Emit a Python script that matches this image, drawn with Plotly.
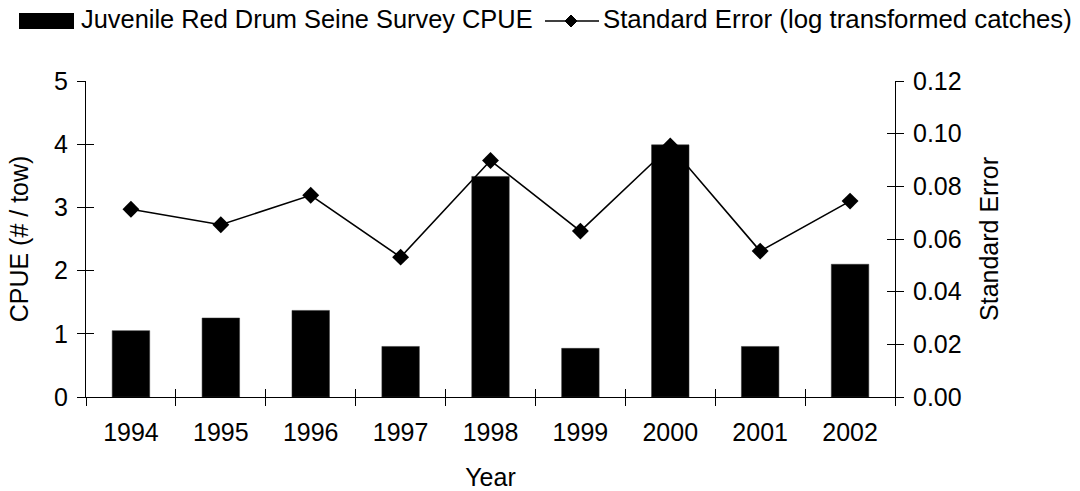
import plotly.graph_objects as go

# Juvenile red drum seine survey, 1994-2002
years = ["1994", "1995", "1996", "1997", "1998", "1999", "2000", "2001", "2002"]
cpue = [1.05, 1.25, 1.37, 0.80, 3.49, 0.77, 3.99, 0.80, 2.10]
std_err = [0.0713, 0.0654, 0.0766, 0.0531, 0.0898, 0.0630, 0.0953, 0.0554, 0.0744]

cpue_ticks = [0, 1, 2, 3, 4, 5]
se_ticks = [0.00, 0.02, 0.04, 0.06, 0.08, 0.10, 0.12]

bar_name = "Juvenile Red Drum Seine Survey CPUE"
line_name = "Standard Error (log transformed catches)"

FONT = "Liberation Sans, Arial, sans-serif"
FS = 25

fig = go.Figure()

fig.add_trace(go.Bar(
    x=years, y=cpue, name=bar_name,
    marker=dict(color="black", line=dict(color="#333333", width=0.5)),
    xaxis="x", yaxis="y", showlegend=False,
))
fig.add_trace(go.Scatter(
    x=years, y=std_err, name=line_name, mode="lines+markers",
    line=dict(color="black", width=1.6),
    marker=dict(symbol="diamond", size=13, color="black"),
    xaxis="x", yaxis="y2", showlegend=False,
))
# transparent copies that give the inward half of each crossing tick its axis
fig.add_trace(go.Scatter(x=years, y=cpue, mode="markers", marker=dict(opacity=0),
                         xaxis="x2", yaxis="y3", showlegend=False, hoverinfo="skip"))
fig.add_trace(go.Scatter(x=years, y=std_err, mode="markers", marker=dict(opacity=0),
                         xaxis="x2", yaxis="y4", showlegend=False, hoverinfo="skip"))

tickfont = dict(family=FONT, size=FS, color="black")
titlefont = dict(family=FONT, size=FS, color="black")
common_x = dict(type="category", categoryorder="array", categoryarray=years,
                range=[-0.5, len(years) - 0.5], tickson="boundaries",
                showgrid=False, zeroline=False, ticklen=8, tickwidth=1,
                tickcolor="black")

fig.update_layout(
    width=1080, height=491,
    margin=dict(l=86, r=185, t=81, b=94, autoexpand=False),
    paper_bgcolor="white", plot_bgcolor="white",
    bargap=0.583,
    font=dict(family=FONT, size=FS, color="black"),
    xaxis=dict(**common_x, ticks="outside", showline=True, linecolor="black",
               linewidth=1, tickfont=tickfont, ticklabelstandoff=13,
               title=dict(text="Year", font=titlefont, standoff=24)),
    xaxis2=dict(**common_x, ticks="inside", showline=False, showticklabels=False,
                overlaying="x", anchor="y"),
    yaxis=dict(range=[0, 5], tickvals=cpue_ticks, ticks="outside", ticklen=8,
               tickcolor="black", showline=True, linecolor="black", linewidth=1,
               showgrid=False, zeroline=False, tickfont=tickfont,
               ticklabelstandoff=4,
               title=dict(text="CPUE (# / tow)", font=titlefont, standoff=18)),
    yaxis2=dict(range=[0, 0.12], tickvals=se_ticks, tickformat=".2f",
                overlaying="y", side="right", anchor="x", ticks="outside",
                ticklen=8, tickcolor="black", showline=True, linecolor="black",
                linewidth=1, showgrid=False, zeroline=False, tickfont=tickfont,
                ticklabelstandoff=4,
                title=dict(text="Standard Error", font=titlefont, standoff=19)),
    yaxis3=dict(range=[0, 5], tickvals=cpue_ticks, overlaying="y", side="left",
                anchor="x2", ticks="inside", ticklen=8, tickcolor="black",
                showline=False, showgrid=False, zeroline=False,
                showticklabels=False),
    yaxis4=dict(range=[0, 0.12], tickvals=se_ticks, overlaying="y", side="right",
                anchor="x2", ticks="inside", ticklen=8, tickcolor="black",
                showline=False, showgrid=False, zeroline=False,
                showticklabels=False),
    showlegend=False,
)

# legend row above the plot, sized in pixels from the plot's top-left corner
fig.add_shape(type="rect", xref="paper", yref="paper", xsizemode="pixel",
              ysizemode="pixel", xanchor=0, yanchor=1, x0=-67, x1=-12,
              y0=52, y1=68, fillcolor="black", line=dict(width=0))
fig.add_shape(type="line", xref="paper", yref="paper", xsizemode="pixel",
              ysizemode="pixel", xanchor=0, yanchor=1, x0=459, x1=513,
              y0=60, y1=60, line=dict(color="black", width=1.6))
fig.add_shape(type="path", xref="paper", yref="paper", xsizemode="pixel",
              ysizemode="pixel", xanchor=0, yanchor=1,
              path="M479,60 L485,66 L491,60 L485,54 Z",
              fillcolor="black", line=dict(color="black", width=1))
fig.add_annotation(text=bar_name, xref="paper", yref="paper",
                   x=(79 - 86) / 809, y=(397 - 19) / 316, xanchor="left",
                   yanchor="middle", showarrow=False,
                   font=dict(family=FONT, size=25.4, color="black"))
fig.add_annotation(text=line_name, xref="paper", yref="paper",
                   x=(601 - 86) / 809, y=(397 - 19) / 316, xanchor="left",
                   yanchor="middle", showarrow=False,
                   font=dict(family=FONT, size=25.8, color="black"))

fig.write_html("out.html")
